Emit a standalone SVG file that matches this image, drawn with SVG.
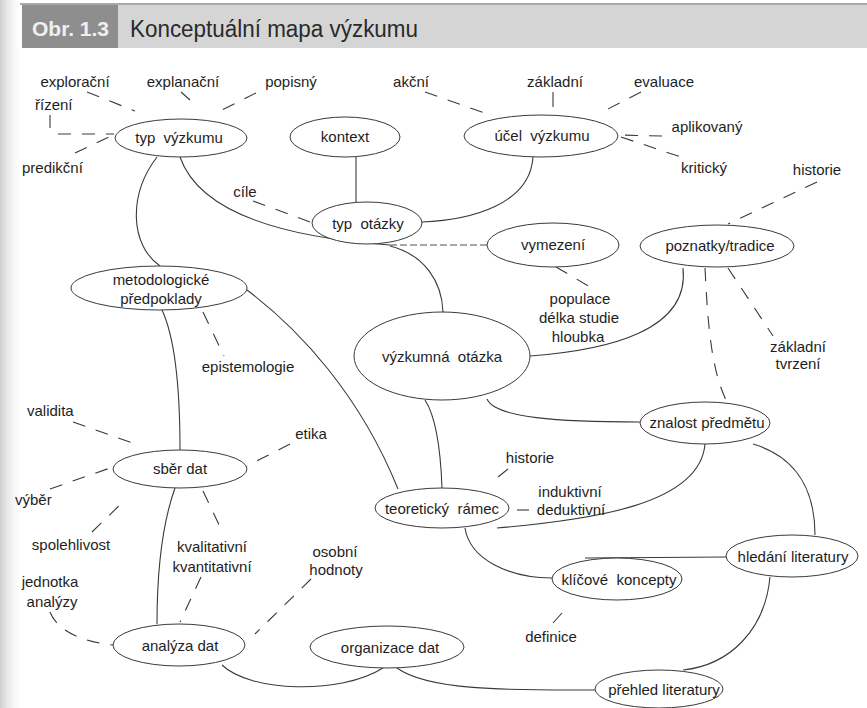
<svg xmlns="http://www.w3.org/2000/svg" width="867" height="708" viewBox="0 0 867 708">
<defs>
<linearGradient id="edge" x1="0" y1="0" x2="1" y2="0">
<stop offset="0" stop-color="#cfcfcf"/>
<stop offset="1" stop-color="#ffffff" stop-opacity="0"/>
</linearGradient>
<style>
text{font-family:"Liberation Sans",Arial,Helvetica,sans-serif;font-size:15px;fill:#1e1e1e;text-anchor:middle;white-space:pre}
.node ellipse{fill:#ffffff;stroke:#3a3a3a;stroke-width:1}
.c path,.c line{fill:none;stroke:#3a3a3a;stroke-width:1.1}
.c .d{stroke-dasharray:13 11}
.c .f{stroke-dasharray:7 3;stroke-width:0.9}
.lab text{}
</style>
</defs>
<rect width="867" height="708" fill="#ffffff"/>
<rect x="0" y="0" width="24" height="708" fill="url(#edge)"/>
<g id="header">
<line x1="20" y1="4" x2="867" y2="4" stroke="#555" stroke-width="1.2"/>
<rect x="22" y="5" width="96" height="43" fill="#8e8e8e"/>
<rect x="118" y="5" width="749" height="43" fill="#d5d5d5"/>
<text x="32" y="36" style="font-size:21px;font-weight:bold;fill:#efefef;text-anchor:start">Obr. 1.3</text>
<text x="130" y="37" textLength="288" lengthAdjust="spacingAndGlyphs" style="font-size:23px;fill:#2a2a2a;text-anchor:start">Konceptuální mapa výzkumu</text>
</g>
<g id="connectors" class="c">
<path d="M157,157 C128,195 130,245 160,266"/>
<path d="M180,157 C195,200 250,235 390,245"/>
<path d="M356,157 L356,202"/>
<path d="M533,157 C530,205 470,220 422,222"/>
<path d="M390,246 C425,255 442,282 443,312"/>
<path d="M247,290 C300,330 360,395 398,489"/>
<path d="M162,310 C176,340 180,390 180,450"/>
<path d="M530,356 C610,350 690,330 683,268"/>
<path d="M425,400 C438,420 441,460 442,488"/>
<path d="M487,399 C495,418 560,422 640,422"/>
<path d="M497,528 C590,520 700,505 705,444"/>
<path d="M753,444 C800,458 815,495 815,535"/>
<path d="M465,528 C470,560 510,578 552,578"/>
<path d="M585,558 L727,557"/>
<path d="M770,577 C765,630 730,665 683,670"/>
<path d="M175,488 C160,530 157,580 157,624"/>
<path d="M222,665 C250,692 340,695 383,668"/>
<path d="M397,668 C430,692 520,690 595,690"/>
<path class="f" d="M487,245 L390,245"/>
<path class="d" d="M87,92 L135,111"/>
<path d="M181,92 L190,100"/>
<path class="d" d="M256,93 L218,112"/>
<path d="M50,115 L50,128"/>
<path class="d" d="M58,134 L114,134"/>
<path class="d" d="M75,153 L113,135"/>
<path class="d" d="M425,92 L490,115"/>
<path d="M553,92 L553,107"/>
<path class="d" d="M641,92 L600,113"/>
<path class="d" d="M662,136 L618,135"/>
<path class="d" d="M621,137 L684,158"/>
<path class="d" d="M817,182 L728,224"/>
<path class="d" d="M253,201 L310,222"/>
<path class="d" d="M556,267 L597,291"/>
<path class="d" d="M203,312 L224,356"/>
<path class="d" d="M705,268 C708,330 712,372 727,402"/>
<path class="d" d="M728,268 L773,336"/>
<path class="d" d="M73,422 L138,445"/>
<path class="d" d="M290,444 L247,466"/>
<path class="d" d="M50,489 L113,467"/>
<path class="d" d="M92,532 L125,500"/>
<path class="d" d="M203,491 L223,533"/>
<path class="d" d="M201,577 L180,622"/>
<path class="d" d="M311,579 L255,634"/>
<path class="d" d="M50,612 C55,625 70,640 113,645"/>
<path d="M508,469 L498,477"/>
<path d="M517,510 L529,510"/>
<path d="M562,613 L553,623"/>
</g>
<g id="typ_vyzkumu" class="node"><ellipse cx="181" cy="138" rx="66" ry="19"/><text x="179" y="143">typ  výzkumu</text></g>
<g id="kontext" class="node"><ellipse cx="345" cy="137" rx="55" ry="20"/><text x="345" y="142">kontext</text></g>
<g id="ucel_vyzkumu" class="node"><ellipse cx="541" cy="136" rx="77" ry="21"/><text x="542" y="141">účel  výzkumu</text></g>
<g id="typ_otazky" class="node"><ellipse cx="367" cy="223" rx="55" ry="21"/><text x="368" y="229">typ  otázky</text></g>
<g id="vymezeni" class="node"><ellipse cx="553" cy="245" rx="66" ry="22"/><text x="553" y="250">vymezení</text></g>
<g id="poznatky_tradice" class="node"><ellipse cx="717" cy="246" rx="77" ry="21"/><text x="720" y="251">poznatky/tradice</text></g>
<g id="metodologicke_predpoklady" class="node"><ellipse cx="159" cy="288" rx="88" ry="22"/><text x="161" y="285">metodologické</text><text x="161" y="304">předpoklady</text></g>
<g id="vyzkumna_otazka" class="node"><ellipse cx="442" cy="356" rx="88" ry="44"/><text x="442" y="362">výzkumná  otázka</text></g>
<g id="znalost_predmetu" class="node"><ellipse cx="705" cy="423" rx="65" ry="21"/><text x="707" y="428">znalost předmětu</text></g>
<g id="sber_dat" class="node"><ellipse cx="180" cy="469" rx="67" ry="19"/><text x="180" y="474">sběr dat</text></g>
<g id="teoreticky_ramec" class="node"><ellipse cx="442" cy="508" rx="67" ry="20"/><text x="442" y="514">teoretický  rámec</text></g>
<g id="hledani_literatury" class="node"><ellipse cx="792" cy="556" rx="66" ry="21"/><text x="793" y="562">hledání literatury</text></g>
<g id="klicove_koncepty" class="node"><ellipse cx="617" cy="579" rx="65" ry="21"/><text x="619" y="585">klíčové  koncepty</text></g>
<g id="analyza_dat" class="node"><ellipse cx="179" cy="645" rx="66" ry="21"/><text x="180" y="651">analýza dat</text></g>
<g id="organizace_dat" class="node"><ellipse cx="387" cy="647" rx="77" ry="21"/><text x="390" y="653">organizace dat</text></g>
<g id="prehled_literatury" class="node"><ellipse cx="659" cy="689" rx="64" ry="19"/><text x="664" y="695">přehled literatury</text></g>
<g id="labels">
<text x="75" y="87">explorační</text>
<text x="183" y="87">explanační</text>
<text x="291" y="87">popisný</text>
<text x="411" y="87">akční</text>
<text x="555" y="87">základní</text>
<text x="664" y="87">evaluace</text>
<text x="35" y="110" style="text-anchor:start">řízení</text>
<text x="22" y="173" style="text-anchor:start">predikční</text>
<text x="707" y="132">aplikovaný</text>
<text x="704" y="173">kritický</text>
<text x="817" y="175">historie</text>
<text x="245" y="197">cíle</text>
<text x="580" y="304">populace</text>
<text x="579" y="323">délka studie</text>
<text x="578" y="342">hloubka</text>
<text x="248" y="372">epistemologie</text>
<text x="798" y="352">základní</text>
<text x="798" y="369">tvrzení</text>
<text x="27" y="416" style="text-anchor:start">validita</text>
<text x="311" y="439">etika</text>
<text x="15" y="505" style="text-anchor:start">výběr</text>
<text x="71" y="550">spolehlivost</text>
<text x="212" y="552">kvalitativní</text>
<text x="212" y="572">kvantitativní</text>
<text x="335" y="557">osobní</text>
<text x="336" y="575">hodnoty</text>
<text x="50" y="587">jednotka</text>
<text x="52" y="607">analýzy</text>
<text x="530" y="463">historie</text>
<text x="570" y="497">induktivní</text>
<text x="571" y="515">deduktivní</text>
<text x="551" y="642">definice</text>
</g>
</svg>
